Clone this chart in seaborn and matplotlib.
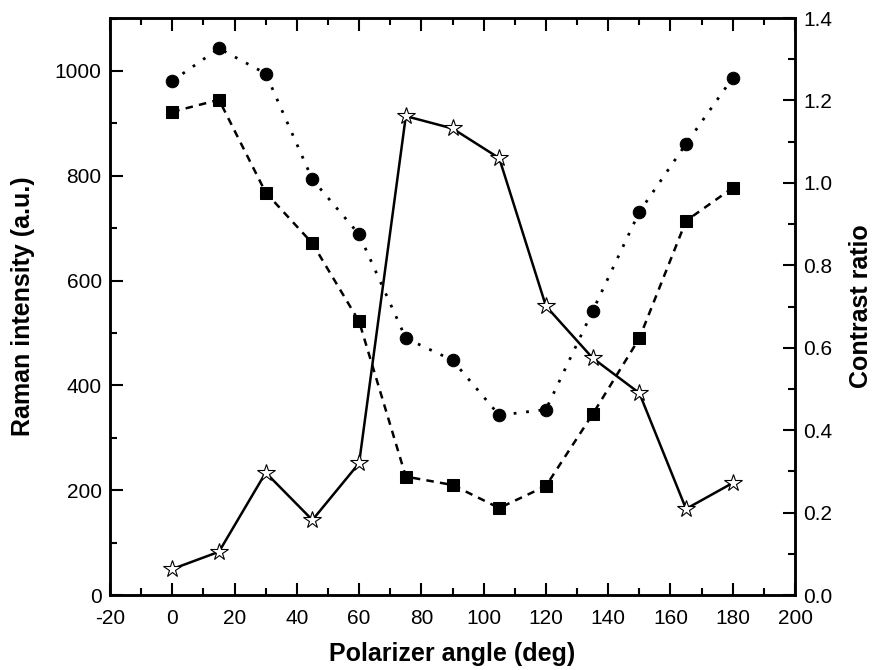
import matplotlib
matplotlib.use("Agg")
import matplotlib.pyplot as plt
import seaborn as sns
import pandas as pd
from matplotlib.ticker import MultipleLocator

angles = [0, 15, 30, 45, 60, 75, 90, 105, 120, 135, 150, 165, 180]
intensity_circle = [981, 1043, 995, 793, 688, 490, 448, 343, 354, 542, 731, 861, 987]
intensity_square = [922, 945, 768, 671, 522, 226, 210, 166, 208, 345, 490, 714, 777]
contrast_ratio = [0.063, 0.105, 0.297, 0.182, 0.32, 1.162, 1.132, 1.06, 0.701, 0.575, 0.49, 0.209, 0.272]

df = pd.DataFrame({"angle": angles, "circle": intensity_circle,
                   "square": intensity_square, "ratio": contrast_ratio})

sns.set_theme(style="ticks")
plt.rcParams['font.family'] = ['Liberation Sans', 'DejaVu Sans']
plt.rcParams['axes.unicode_minus'] = False
plt.rcParams['text.color'] = 'black'
plt.rcParams['axes.labelcolor'] = 'black'
plt.rcParams['xtick.color'] = 'black'
plt.rcParams['ytick.color'] = 'black'

fig = plt.figure(figsize=(8.78, 6.70), dpi=100)
ax = fig.add_axes([0.1253, 0.1119, 0.7802, 0.8612])
ax2 = ax.twinx()

sns.lineplot(data=df, x="angle", y="circle", ax=ax, color="black", marker="o",
             markersize=9, markeredgecolor="black", linestyle=(0, (1, 3.5)), linewidth=2)
sns.lineplot(data=df, x="angle", y="square", ax=ax, color="black", marker="s",
             markersize=8, markeredgecolor="black", linestyle=(0, (3, 2.5)), linewidth=1.8)
sns.lineplot(data=df, x="angle", y="ratio", ax=ax2, color="black", marker="*",
             markersize=13, markerfacecolor="white", markeredgecolor="black",
             markeredgewidth=0.8, linestyle="-", linewidth=1.8)

ax.set_xlim(-20, 200)
ax.set_ylim(0, 1101)
ax2.set_ylim(0, 1.4)

ax.xaxis.set_major_locator(MultipleLocator(20))
ax.xaxis.set_minor_locator(MultipleLocator(10))
ax.yaxis.set_major_locator(MultipleLocator(200))
ax.yaxis.set_minor_locator(MultipleLocator(100))
ax2.yaxis.set_minor_locator(MultipleLocator(0.1))
ax2.set_yticks([0, 0.2, 0.4, 0.6, 0.8, 1.0, 1.2, 1.4])
ax2.set_yticklabels(["0.0", "0.2", "0.4", "0.6", "0.8", "1.0", "1.2", "1.4"])

ax.tick_params(axis="x", which="both", direction="in", top=True, labelsize=15, pad=10,
               colors="black")
ax.tick_params(axis="y", which="both", direction="in", right=False, labelsize=15, pad=6,
               colors="black")
ax.tick_params(which="major", length=9, width=1.5)
ax.tick_params(which="minor", length=5, width=1.5)
ax2.tick_params(axis="y", which="both", direction="in", labelsize=15, pad=6, colors="black")
ax2.tick_params(which="major", length=9, width=1.5)
ax2.tick_params(which="minor", length=5, width=1.5)

for a in (ax, ax2):
    for s in a.spines.values():
        s.set_linewidth(1.8)
        s.set_color("black")
        s.set_visible(True)

ax.set_xlabel("Polarizer angle (deg)", fontsize=18, fontweight="bold", labelpad=10,
              color="black")
ax.set_ylabel("Raman intensity (a.u.)", fontsize=18, fontweight="bold", labelpad=14,
              color="black")
ax2.set_ylabel("Contrast ratio", fontsize=18, fontweight="bold", labelpad=12,
               color="black")

fig.savefig("out.png", dpi=100)
